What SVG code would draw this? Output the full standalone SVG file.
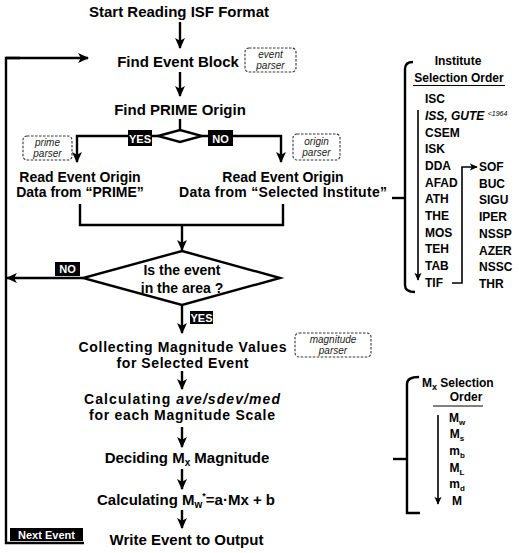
<svg xmlns="http://www.w3.org/2000/svg" width="519" height="553" viewBox="0 0 519 553">
<defs>
<marker id="ah" viewBox="0 0 10 10" refX="9" refY="5" markerWidth="11" markerHeight="11" markerUnits="userSpaceOnUse" orient="auto">
<path d="M0,0.5 L10,5 L0,9.5 L2.5,5 z" fill="#000"/>
</marker>
<marker id="ahs" viewBox="0 0 10 10" refX="9" refY="5" markerWidth="8" markerHeight="8" markerUnits="userSpaceOnUse" orient="auto">
<path d="M0,0.5 L10,5 L0,9.5 L2.5,5 z" fill="#000"/>
</marker>
</defs>
<style>
text{font-family:"Liberation Sans",Arial,sans-serif;fill:#000}
.m{font-size:15px;font-weight:bold;text-anchor:middle}
.m2{font-size:14px;font-weight:bold;text-anchor:middle}
.r{font-size:14px;font-weight:bold;text-anchor:middle}
.l{font-size:12px;font-weight:bold}
.lab{font-size:11px;font-weight:bold;fill:#fff;text-anchor:middle}
.p{font-size:10px;font-style:italic;text-anchor:middle;fill:#222}
.pb{fill:#fff;stroke:#333;stroke-width:1.1;stroke-dasharray:2.5,1.5}
.ln{fill:none;stroke:#000;stroke-width:2.4}
.ar{fill:none;stroke:#000;stroke-width:2.4;marker-end:url(#ah)}
.sar{fill:none;stroke:#000;stroke-width:1.6;marker-end:url(#ahs)}
.bx{fill:#000}
</style>
<rect width="519" height="553" fill="#fff"/>

<g id="connectors">
<line class="ar" x1="180" y1="22" x2="180" y2="48"/>
<line class="ar" x1="180" y1="72" x2="180" y2="96"/>
<line class="ln" x1="180" y1="119" x2="180" y2="130"/>
<polyline class="ar" points="158,136 77,136 77,162"/>
<polyline class="ar" points="202,136 281,136 281,162"/>
<polyline class="ln" points="80,204 80,225 283,225 283,204"/>
<line class="ar" x1="182" y1="225" x2="182" y2="250"/>
<line class="ar" x1="83" y1="278" x2="7" y2="278"/>
<line class="ar" x1="182" y1="305" x2="182" y2="333"/>
<line class="ar" x1="182" y1="371" x2="182" y2="389"/>
<line class="ar" x1="182" y1="427" x2="182" y2="447"/>
<line class="ar" x1="182" y1="469" x2="182" y2="489"/>
<line class="ar" x1="182" y1="510" x2="182" y2="528"/>
<polyline class="ln" points="84,543 6,543 6,58 20,58"/>
<line class="ar" x1="6" y1="58" x2="88" y2="58"/>
<path class="ln" d="M413,62 Q405,62 405,69 L405,285 Q405,292 415,292"/>
<line class="ln" x1="392" y1="198" x2="405" y2="198"/>
<line class="sar" x1="418" y1="110" x2="418" y2="280"/>
<polyline class="sar" points="452,283 462,283 462,167 477,167"/>
<path class="ln" d="M419,377 Q407,377 407,384 L407,513 L420,513"/>
<line class="ln" x1="393" y1="459" x2="407" y2="459"/>
<line class="sar" x1="438" y1="415" x2="438" y2="504"/>
</g>

<g id="start"><text class="m" x="179" y="17">Start Reading ISF Format</text></g>
<g id="find-event"><text class="m" x="178" y="67">Find Event Block</text></g>
<g id="event-parser"><rect class="pb" x="245" y="48" width="51" height="24" rx="4"/><text class="p" x="270.5" y="58">event</text><text class="p" x="270.5" y="69">parser</text></g>
<g id="find-prime"><text class="m" x="180" y="115">Find PRIME Origin</text></g>
<g id="prime-decision"><polygon points="158,136 180,130 202,136 180,142" fill="#fff" stroke="#000" stroke-width="2.4"/></g>
<g id="yes1"><rect class="bx" x="128" y="130" width="24" height="16"/><text class="lab" x="140" y="142.5">YES</text></g>
<g id="no1"><rect class="bx" x="208" y="130" width="25" height="16"/><text class="lab" x="220.5" y="142.5">NO</text></g>
<g id="prime-parser"><rect class="pb" x="23" y="136" width="49" height="24" rx="4"/><text class="p" x="47.5" y="146">prime</text><text class="p" x="47.5" y="157">parser</text></g>
<g id="origin-parser"><rect class="pb" x="293" y="134" width="47" height="26" rx="4"/><text class="p" x="316.5" y="145">origin</text><text class="p" x="316.5" y="156">parser</text></g>
<g id="read-prime"><text class="r" x="80" y="182">Read Event Origin</text><text class="r" x="80" y="197">Data from “PRIME”</text></g>
<g id="read-selected"><text class="r" x="283" y="182">Read Event Origin</text><text class="r" x="283" y="197" textLength="208">Data from “Selected Institute”</text></g>
<g id="area-decision"><polygon points="182,251 280,278 182,305 83,278" fill="#fff" stroke="#000" stroke-width="2.4"/><text class="r" x="182" y="275">Is the event</text><text class="r" x="182" y="293">in the area ?</text></g>
<g id="no2"><rect class="bx" x="55" y="262" width="25" height="14"/><text class="lab" x="67.5" y="273">NO</text></g>
<g id="yes2"><rect class="bx" x="190" y="311" width="23" height="13"/><text class="lab" x="201.5" y="321.5">YES</text></g>
<g id="collect"><text class="m2" x="182.5" y="352" textLength="208">Collecting Magnitude Values</text><text class="m2" x="182.5" y="368" textLength="132">for Selected Event</text></g>
<g id="magnitude-parser"><rect class="pb" x="295" y="333" width="76" height="24" rx="4"/><text class="p" x="333" y="343">magnitude</text><text class="p" x="333" y="354">parser</text></g>
<g id="calc-stats"><text class="m2" x="182" y="404" textLength="196">Calculating  <tspan font-style="italic">ave/sdev/med</tspan></text><text class="m2" x="182" y="420" textLength="186">for each Magnitude Scale</text></g>
<g id="decide"><text class="m" x="187" y="463">Deciding M<tspan font-size="10" dy="3">x</tspan><tspan dy="-3"> Magnitude</tspan></text></g>
<g id="calc-mw"><text class="m" x="186" y="505">Calculating M<tspan font-size="10" dy="3">w</tspan><tspan font-size="9" dy="-9">*</tspan><tspan dy="6">=a·Mx + b</tspan></text></g>
<g id="write"><text class="m" x="186.5" y="545">Write Event to Output</text></g>
<g id="next-event"><rect class="bx" x="10" y="528" width="73" height="13"/><text class="lab" x="46.5" y="538.5">Next Event</text></g>

<g id="institute-order">
<text class="l" x="458" y="65" text-anchor="middle">Institute</text>
<text class="l" x="459" y="82" text-anchor="middle">Selection Order</text>
<line x1="413" y1="85.5" x2="505" y2="85.5" stroke="#000" stroke-width="1"/>
<text class="l" x="425" y="103">ISC</text>
<text class="l" x="425" y="120" font-style="italic">ISS, GUTE <tspan font-size="7" font-weight="normal" dy="-4">&lt;1964</tspan></text>
<text class="l" x="425" y="137">CSEM</text>
<text class="l" x="425" y="153">ISK</text>
<text class="l" x="425" y="170">DDA</text>
<text class="l" x="425" y="187">AFAD</text>
<text class="l" x="425" y="203">ATH</text>
<text class="l" x="425" y="220">THE</text>
<text class="l" x="425" y="237">MOS</text>
<text class="l" x="425" y="253">TEH</text>
<text class="l" x="425" y="270">TAB</text>
<text class="l" x="425" y="287">TIF</text>
<text class="l" x="479" y="171">SOF</text>
<text class="l" x="479" y="188">BUC</text>
<text class="l" x="479" y="204">SIGU</text>
<text class="l" x="479" y="221">IPER</text>
<text class="l" x="479" y="238">NSSP</text>
<text class="l" x="479" y="255">AZER</text>
<text class="l" x="479" y="271">NSSC</text>
<text class="l" x="479" y="288">THR</text>
</g>

<g id="mx-order">
<text class="l" x="422" y="387">M<tspan font-size="9" dy="3">x</tspan><tspan dy="-3"> Selection</tspan></text>
<text class="l" x="466" y="401" text-anchor="middle">Order</text>
<line x1="433" y1="406" x2="483" y2="406" stroke="#000" stroke-width="1"/>
<text class="l" x="457" y="422" text-anchor="middle">M<tspan font-size="8" dy="3">w</tspan></text>
<text class="l" x="457" y="438" text-anchor="middle">M<tspan font-size="8" dy="3">s</tspan></text>
<text class="l" x="457" y="455" text-anchor="middle">m<tspan font-size="8" dy="3">b</tspan></text>
<text class="l" x="457" y="472" text-anchor="middle">M<tspan font-size="8" dy="3">L</tspan></text>
<text class="l" x="457" y="488" text-anchor="middle">m<tspan font-size="8" dy="3">d</tspan></text>
<text class="l" x="457" y="505" text-anchor="middle">M</text>
</g>
</svg>
